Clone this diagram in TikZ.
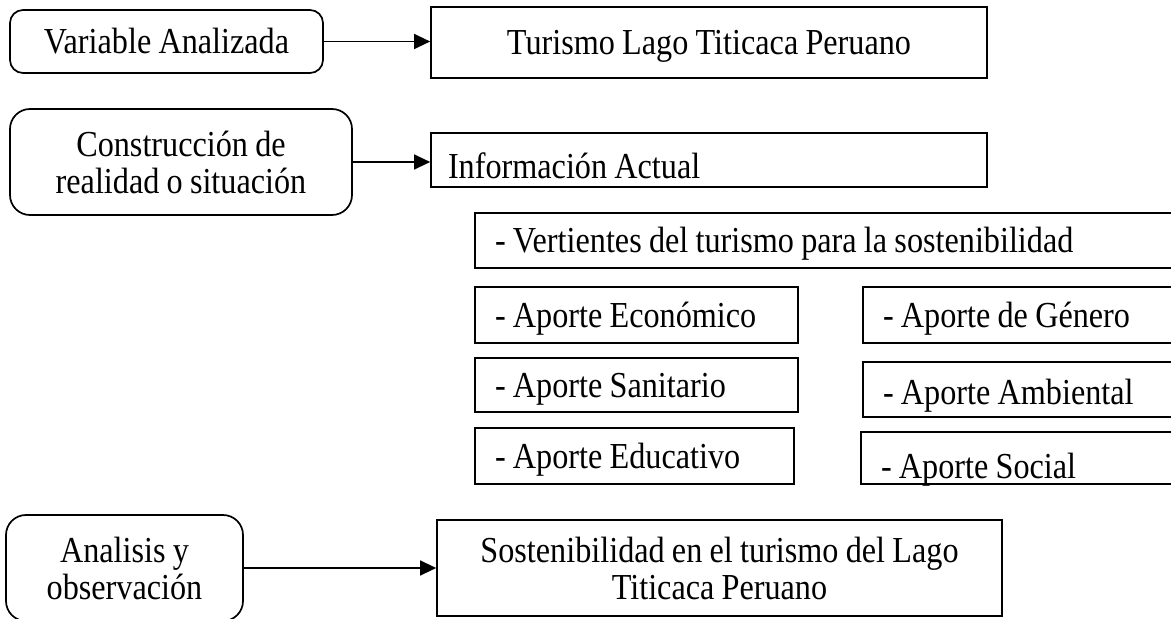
\documentclass[tikz,border=0pt]{standalone}
\usepackage{fontspec}
\setmainfont{Liberation Serif}[FakeStretch=0.88, WordSpace=0.9]
\usetikzlibrary{arrows.meta}
\newcommand\lftxt[2]{\makebox[#1][l]{#2}}
\begin{document}
\begin{tikzpicture}[x=1bp,y=-1bp,
  every node/.style={font=\fontsize{36.6bp}{37bp}\selectfont},
  bx/.style={draw, line width=1.7bp, inner sep=0pt, text height=28bp, text depth=4bp},
  rbx/.style={draw, line width=1.7bp, rounded corners=#1, inner sep=0pt, align=center},
  rbx/.default=18bp,
  arr/.style={line width=1.3bp, -{Triangle[length=16bp,width=15bp]}}
]
\clip (0,0) rectangle (1171,619);
\fill[white] (0,0) rectangle (1171,619);

% left column
\node[rbx=13bp, minimum width=313bp, minimum height=63bp, text height=28bp, text depth=4bp] (va) at (166.5,41.5) {Variable Analizada};
\node[rbx=20bp, minimum width=342bp, minimum height=106bp] (cr) at (181,162) {Construcción de\\realidad o situación};
\node[rbx=20bp, minimum width=237bp, minimum height=106bp] (an) at (124.5,568) {Analisis y\\observación};

% right column
\node[bx, minimum width=556bp, minimum height=71bp] (tl) at (709,42.5) {Turismo Lago Titicaca Peruano};
\node[bx, minimum width=556bp, minimum height=54bp, text height=38bp, text depth=0bp] (ia) at (709,160) {\lftxt{522bp}{Información Actual}};
\node[bx, minimum width=710bp, minimum height=55bp] (vt) at (830,240.5) {\lftxt{670bp}{- Vertientes del turismo para la sostenibilidad}};

\node[bx, minimum width=323bp, minimum height=56bp] (ec) at (636.5,315) {\lftxt{283bp}{- Aporte Económico}};
\node[bx, minimum width=323bp, minimum height=54bp] (sa) at (636.5,385) {\lftxt{283bp}{- Aporte Sanitario}};
\node[bx, minimum width=319bp, minimum height=56bp] (ed) at (634.5,456) {\lftxt{279bp}{- Aporte Educativo}};

\node[bx, minimum width=322bp, minimum height=56bp] (ge) at (1024,315) {\lftxt{282bp}{- Aporte de Género}};
\node[bx, minimum width=322bp, minimum height=55bp, text height=30bp, text depth=0bp] (am) at (1024,389.5) {\lftxt{282bp}{- Aporte Ambiental}};
\node[bx, minimum width=324bp, minimum height=52bp, text height=40bp, text depth=0bp] (so) at (1023,458) {\lftxt{284bp}{- Aporte Social}};

\node[draw, line width=1.7bp, inner sep=0pt, minimum width=565bp, minimum height=96bp, align=center] (sl) at (719.5,568) {Sostenibilidad en el turismo del Lago\\Titicaca Peruano};

% connectors
\draw[arr] (va.east) -- (va.east -| tl.west);
\draw[arr] (cr.east) -- (cr.east -| ia.west);
\draw[arr] (an.east) -- (an.east -| sl.west);
\end{tikzpicture}
\end{document}
